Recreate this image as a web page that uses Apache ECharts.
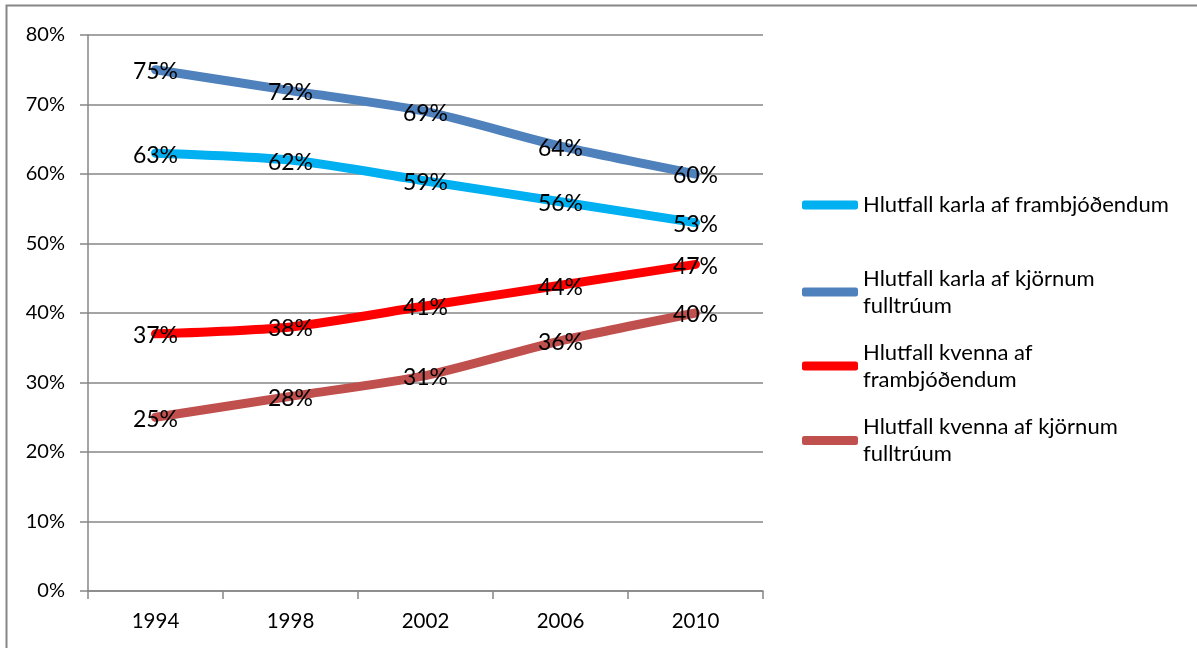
<!DOCTYPE html>
<html>
<head>
<meta charset="utf-8">
<script src="https://cdn.jsdelivr.net/npm/echarts@6/dist/echarts.min.js"></script>
<style>
  html, body { margin: 0; padding: 0; background: #fff; }
  #chart { width: 1197px; height: 648px; }
</style>
</head>
<body>
<div id="chart"></div>
<script>
// Election years
const years = ['1994', '1998', '2002', '2006', '2010'];

// Shares in percent
const karlaFramb = [63, 62, 59, 56, 53];
const karlaKjorn = [75, 72, 69, 64, 60];
const kvennaFramb = [37, 38, 41, 44, 47];
const kvennaKjorn = [25, 28, 31, 36, 40];

// Legend names (with line breaks as wrapped in the legend)
const names = [
  'Hlutfall karla af frambjóðendum',
  'Hlutfall karla af kjörnum\nfulltrúum',
  'Hlutfall kvenna af\nframbjóðendum',
  'Hlutfall kvenna af kjörnum\nfulltrúum'
];
const colors = ['#00B0F0', '#4F81BD', '#FF0000', '#C0504D'];
const seriesData = [karlaFramb, karlaKjorn, kvennaFramb, kvennaKjorn];

const FONT = 'Lato';
const GRAY = '#868686';

const chart = echarts.init(document.getElementById('chart'), null, { renderer: 'canvas' });

// one legend block per entry, icon aligned with the first text line
const legendTops = [186.5, 246.5, 320.5, 395];
const legends = names.map((n, i) => ({
  data: [n],
  left: 797,
  top: legendTops[i],
  orient: 'vertical',
  selectedMode: false,
  icon: 'roundRect',
  itemWidth: 56,
  itemHeight: 9,
  itemStyle: { borderWidth: 0, opacity: 1, color: colors[i] },
  textStyle: {
    fontFamily: FONT,
    fontSize: 22,
    color: '#000',
    lineHeight: 27,
    padding: n.indexOf('\n') >= 0 ? [27, 0, 0, 0] : 0
  }
}));

const option = {
  animation: false,
  backgroundColor: '#fff',
  color: colors,
  grid: { left: 88, right: 434, top: 35, bottom: 57, containLabel: false },
  legend: legends,
  xAxis: {
    type: 'category',
    data: years,
    boundaryGap: true,
    axisLine: { lineStyle: { color: GRAY, width: 1.5 } },
    axisTick: { show: true, length: 8, lineStyle: { color: GRAY, width: 1.5 } },
    axisLabel: { fontFamily: FONT, fontSize: 20.5, color: '#000', margin: 20 }
  },
  yAxis: {
    type: 'value',
    min: 0,
    max: 80,
    interval: 10,
    axisLine: { show: true, lineStyle: { color: GRAY, width: 1.5 } },
    axisTick: { show: true, length: 8, lineStyle: { color: GRAY, width: 1.5 } },
    splitLine: { lineStyle: { color: GRAY, width: 1.5 } },
    axisLabel: { fontFamily: FONT, fontSize: 20, color: '#000', margin: 23, formatter: '{value}%' }
  },
  graphic: [{
    type: 'rect',
    shape: { x: 6.5, y: 5.5, width: 1400, height: 900 },
    style: { fill: 'none', stroke: GRAY, lineWidth: 2 },
    silent: true
  }],
  series: names.map((n, i) => ({
    name: n,
    type: 'line',
    data: seriesData[i],
    smooth: 0.25,
    symbol: 'circle',
    symbolSize: 1,
    showSymbol: true,
    lineStyle: { width: 9, color: colors[i], cap: 'round', join: 'round' },
    itemStyle: { color: colors[i] },
    label: {
      show: true,
      position: 'inside',
      offset: [0, 2],
      formatter: '{c}%',
      fontFamily: FONT,
      fontSize: 23,
      color: '#000'
    },
    z: 2
  }))
};

chart.setOption(option);
</script>
</body>
</html>
